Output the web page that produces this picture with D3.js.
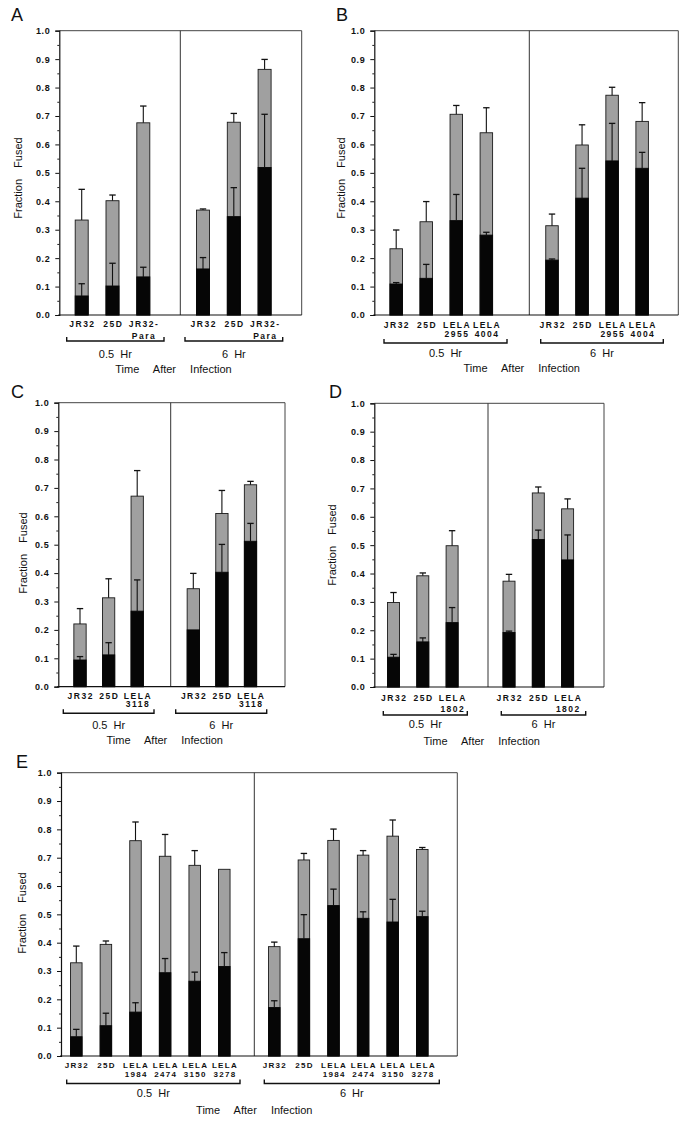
<!DOCTYPE html>
<html><head><meta charset="utf-8">
<script src="https://cdn.jsdelivr.net/npm/d3@7"></script>
<style>
body{margin:0;background:#fff;}
svg text{font-family:"Liberation Sans",Arial,sans-serif;fill:#111;}
</style></head>
<body>
<svg id="chart" width="690" height="1122"></svg>
<script>
// ---------- DATA (fraction fused; sd = error-bar length) ----------
const yTicks = [0,0.1,0.2,0.3,0.4,0.5,0.6,0.7,0.8,0.9,1.0];
const groupLabels = ["0.5  Hr", "6  Hr"];
const xTitle = "Time After Infection";
const yTitle = "Fraction Fused";

const catsA = ["JR32", "25D", "JR32-\nPara"];
const totalA05 = [0.334, 0.402, 0.676], totalSdA05 = [0.108, 0.020, 0.059];
const blackA05 = [0.067, 0.102, 0.134], blackSdA05 = [0.043, 0.080, 0.034];
const totalA6  = [0.369, 0.678, 0.864], totalSdA6  = [0.004, 0.031, 0.035];
const blackA6  = [0.162, 0.346, 0.519], blackSdA6  = [0.040, 0.102, 0.187];

const catsB = ["JR32", "25D", "LELA\n2955", "LELA\n4004"];
const totalB05 = [0.233, 0.328, 0.706, 0.641], totalSdB05 = [0.066, 0.071, 0.031, 0.088];
const blackB05 = [0.109, 0.129, 0.332, 0.281], blackSdB05 = [0.005, 0.049, 0.092, 0.010];
const totalB6  = [0.314, 0.598, 0.773, 0.681], totalSdB6  = [0.041, 0.071, 0.028, 0.066];
const blackB6  = [0.193, 0.411, 0.542, 0.516], blackSdB6  = [0.004, 0.105, 0.132, 0.056];

const catsC = ["JR32", "25D", "LELA\n3118"];
const totalC05 = [0.221, 0.313, 0.671], totalSdC05 = [0.054, 0.067, 0.090];
const blackC05 = [0.094, 0.112, 0.266], blackSdC05 = [0.012, 0.043, 0.110];
const totalC6  = [0.345, 0.610, 0.711], totalSdC6  = [0.054, 0.081, 0.012];
const blackC6  = [0.200, 0.403, 0.512], blackSdC6  = [0.000, 0.098, 0.063];

const catsD = ["JR32", "25D", "LELA\n1802"];
const totalD05 = [0.298, 0.392, 0.498], totalSdD05 = [0.035, 0.010, 0.053];
const blackD05 = [0.105, 0.159, 0.227], blackSdD05 = [0.010, 0.014, 0.053];
const totalD6  = [0.373, 0.684, 0.628], totalSdD6  = [0.024, 0.021, 0.035];
const blackD6  = [0.192, 0.520, 0.448], blackSdD6  = [0.005, 0.033, 0.088];

const catsE = ["JR32", "25D", "LELA\n1984", "LELA\n2474", "LELA\n3150", "LELA\n3278"];
const totalE05 = [0.329, 0.394, 0.760, 0.705, 0.673, 0.659], totalSdE05 = [0.059, 0.012, 0.066, 0.077, 0.052, 0.000];
const blackE05 = [0.068, 0.107, 0.155, 0.294, 0.264, 0.316], blackSdE05 = [0.026, 0.044, 0.033, 0.050, 0.032, 0.049];
const totalE6  = [0.386, 0.692, 0.761, 0.709, 0.776, 0.729], totalSdE6  = [0.016, 0.023, 0.040, 0.016, 0.057, 0.007];
const blackE6  = [0.171, 0.414, 0.531, 0.486, 0.473, 0.492], blackSdE6  = [0.024, 0.085, 0.058, 0.023, 0.080, 0.019];

// ---------- LAYOUT ----------
const panels = [
  {id:"A", cats:catsA,
   groups:[{total:totalA05,tsd:totalSdA05,black:blackA05,bsd:blackSdA05},{total:totalA6,tsd:totalSdA6,black:blackA6,bsd:blackSdA6}],
   left:59.3,right:301.7,top:30.7,bottom:315,divider:180.3,first:[81.7,203],step:30.8,barW:13,
   letter:[11,21],ylab:[18,178],catY:[327,338.5],catFont:8.5,catSp:1.5,brY:341,br:[[66.7,164],[185,282.7]],hrY:357.5,timeY:372.5,timeX:173.5},
  {id:"B", cats:catsB,
   groups:[{total:totalB05,tsd:totalSdB05,black:blackB05,bsd:blackSdB05},{total:totalB6,tsd:totalSdB6,black:blackB6,bsd:blackSdB6}],
   left:374.3,right:678.3,top:30.7,bottom:315,divider:529.3,first:[396.2,552],step:30.05,barW:12.5,
   letter:[336,21],ylab:[341,178],catY:[327.5,337],catFont:8.5,catSp:1.5,brY:343,br:[[384,507],[540.7,663.3]],hrY:356.7,timeY:372,timeX:521.7},
  {id:"C", cats:catsC,
   groups:[{total:totalC05,tsd:totalSdC05,black:blackC05,bsd:blackSdC05},{total:totalC6,tsd:totalSdC6,black:blackC6,bsd:blackSdC6}],
   left:58.3,right:285,top:402.7,bottom:686.7,divider:170.7,first:[80,193.3],step:28.6,barW:12.3,
   letter:[11,398],ylab:[23,553],catY:[698.5,707],catFont:8.5,catSp:1.5,brY:713.3,br:[[63.3,154],[175.7,266.7]],hrY:729,timeY:743.5,timeX:164.7},
  {id:"D", cats:catsD,
   groups:[{total:totalD05,tsd:totalSdD05,black:blackD05,bsd:blackSdD05},{total:totalD6,tsd:totalSdD6,black:blackD6,bsd:blackSdD6}],
   left:374.3,right:604,top:403.3,bottom:687,divider:488,first:[393.5,509],step:29.3,barW:12,
   letter:[329,398],ylab:[332,545],catY:[700.5,712],catFont:8.5,catSp:1.5,brY:715,br:[[383.3,467.3],[501.3,585.7]],hrY:728.3,timeY:745,timeX:481.7},
  {id:"E", cats:catsE,
   groups:[{total:totalE05,tsd:totalSdE05,black:blackE05,bsd:blackSdE05},{total:totalE6,tsd:totalSdE6,black:blackE6,bsd:blackSdE6}],
   left:61,right:457.3,top:772.7,bottom:1056,divider:254.3,first:[76.3,274.3],step:29.6,barW:11.5,
   letter:[16,768],ylab:[22,913],catY:[1068,1077],catFont:8,catSp:1.3,brY:1083.5,br:[[66.7,240],[264.3,439.3]],hrY:1097.3,timeY:1114,timeX:254.3}
];

const svg = d3.select("#chart");
const GRAY = "#a0a0a0";

panels.forEach(p => {
  const g = svg.append("g");
  const y = d3.scaleLinear().domain([0,1]).range([p.bottom, p.top]);

  // panel letter
  g.append("text").attr("x",p.letter[0]).attr("y",p.letter[1])
    .style("font-size","18px").text(p.id);

  // frame
  g.append("path").attr("fill","none").attr("stroke","#444").attr("stroke-width",1)
    .attr("d",`M${p.left},${p.top}H${p.right}V${p.bottom}`);
  g.append("line").attr("x1",p.divider).attr("x2",p.divider).attr("y1",p.top).attr("y2",p.bottom)
    .attr("stroke","#333").attr("stroke-width",1);
  g.append("line").attr("x1",p.left-1).attr("x2",p.right).attr("y1",p.bottom).attr("y2",p.bottom)
    .attr("stroke","#111").attr("stroke-width",1.2);

  // y axis with minor ticks
  const minor = d3.range(0.05,1,0.1);
  g.append("g").attr("transform",`translate(${p.left},0)`)
    .call(d3.axisLeft(y).tickValues(minor).tickSize(2).tickFormat(""))
    .call(a=>{a.select(".domain").remove(); a.selectAll("line").attr("stroke","#222");});
  const ax = g.append("g").attr("transform",`translate(${p.left},0)`)
    .call(d3.axisLeft(y).tickValues(yTicks).tickSize(4).tickPadding(5).tickFormat(d3.format(".1f")));
  ax.select(".domain").attr("stroke","#111").attr("stroke-width",1.2);
  ax.selectAll("line").attr("stroke","#111");
  ax.selectAll("text").style("font-size","9px").style("font-weight","bold")
    .style("letter-spacing","0.6px").attr("fill","#222").style("font-family","'Liberation Sans',Arial,sans-serif");

  // y title
  g.append("text").attr("transform",`translate(${p.ylab[0]},${p.ylab[1]}) rotate(-90)`)
    .attr("text-anchor","middle").attr("dominant-baseline","central")
    .style("font-size","11px").style("word-spacing","8px").text(yTitle);

  p.groups.forEach((gr, gi) => {
    const n = p.cats.length;
    const x = d3.scalePoint().domain(p.cats).range([p.first[gi], p.first[gi] + (n-1)*p.step]);
    const rows = p.cats.map((c,i)=>({c, total:gr.total[i], tsd:gr.tsd[i], black:gr.black[i], bsd:gr.bsd[i]}));
    const bw = p.barW, cap = 3.2;

    // gray (total) bars
    g.selectAll(null).data(rows).join("rect")
      .attr("x",d=>x(d.c)-bw/2).attr("width",bw)
      .attr("y",d=>y(d.total)).attr("height",d=>y(0)-y(d.total))
      .attr("fill",GRAY).attr("stroke","#1a1a1a").attr("stroke-width",0.9);
    // black bars
    g.selectAll(null).data(rows).join("rect")
      .attr("x",d=>x(d.c)-bw/2).attr("width",bw)
      .attr("y",d=>y(d.black)).attr("height",d=>y(0)-y(d.black))
      .attr("fill","#060606").attr("stroke","#060606").attr("stroke-width",0.9);

    // error bars (total then black)
    const err = (key, sdKey) => {
      const e = rows.filter(d=>d[sdKey] > 0);
      g.selectAll(null).data(e).join("line")
        .attr("x1",d=>x(d.c)).attr("x2",d=>x(d.c))
        .attr("y1",d=>y(d[key])).attr("y2",d=>y(d[key]+d[sdKey]))
        .attr("stroke","#111").attr("stroke-width",1.1);
      g.selectAll(null).data(e).join("line")
        .attr("x1",d=>x(d.c)-cap).attr("x2",d=>x(d.c)+cap)
        .attr("y1",d=>y(d[key]+d[sdKey])).attr("y2",d=>y(d[key]+d[sdKey]))
        .attr("stroke","#111").attr("stroke-width",1.3);
    };
    err("total","tsd");
    err("black","bsd");

    // category labels
    rows.forEach(d => {
      const lines = d.c.split("\n");
      lines.forEach((t,li)=>{
        g.append("text").attr("x",x(d.c)+p.catSp/2).attr("y",p.catY[li])
          .attr("text-anchor","middle").style("font-size",p.catFont+"px").style("font-weight","bold")
          .style("letter-spacing",p.catSp+"px").attr("fill","#222").text(t);
      });
    });

    // bracket
    const [bx1,bx2] = p.br[gi];
    g.append("path").attr("fill","none").attr("stroke","#111").attr("stroke-width",1.4)
      .attr("d",`M${bx1},${p.brY-4}V${p.brY}H${bx2}V${p.brY-4}`);
    g.append("text").attr("x",(bx1+bx2)/2).attr("y",p.hrY).attr("text-anchor","middle")
      .style("font-size","11px").style("white-space","pre").text(groupLabels[gi]);
  });

  g.append("text").attr("x",p.timeX).attr("y",p.timeY).attr("text-anchor","middle")
    .style("font-size","11px").style("word-spacing","11px").text(xTitle);
});
</script>
</body></html>
